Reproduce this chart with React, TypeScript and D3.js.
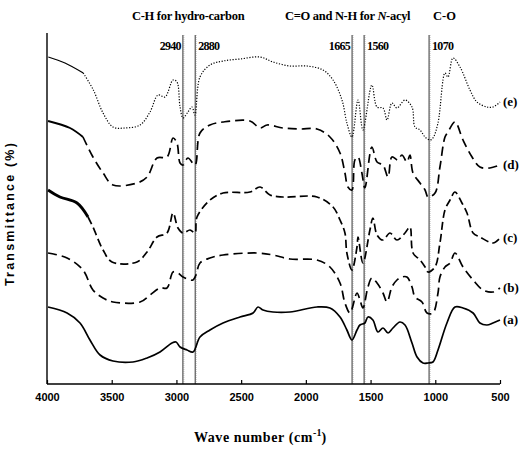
import React, { useEffect, useRef } from 'react';
import * as d3 from 'd3';

type Pt = [number, number]; // [wavenumber cm-1, relative transmittance a.u.]

// spectra, offset as in the original stack
const curveA: Pt[] = [
  [3992, 38.5], [3845, 35.5], [3745, 30.5], [3668, 22], [3590, 14.5], [3490, 11.5],
  [3336, 11], [3227, 13], [3127, 16], [3034, 20.5], [3003, 21], [2972, 18.5],
  [2918, 17], [2872, 16], [2818, 23.5], [2741, 27], [2640, 30.5], [2509, 33.5],
  [2408, 35.5], [2370, 38.5], [2331, 37], [2254, 36], [2123, 36], [1914, 38.5],
  [1814, 38], [1736, 33.5], [1683, 27], [1644, 22], [1605, 27], [1582, 29.5],
  [1544, 30.5], [1520, 33.5], [1482, 32], [1443, 26], [1404, 28], [1365, 25.5],
  [1327, 28], [1273, 31], [1234, 29.5], [1180, 20.5], [1141, 13.5], [1095, 10.5],
  [1056, 10.5], [1018, 11], [979, 17], [910, 30.5], [848, 38.5], [786, 38],
  [708, 35.5], [655, 30.5], [601, 29.5], [554, 30.5], [500, 32],
];

const curveB: Pt[] = [
  [3992, 65.5], [3845, 63], [3722, 57], [3645, 47], [3567, 43], [3490, 41],
  [3281, 41], [3204, 44.5], [3127, 48], [3073, 48], [3026, 56], [2988, 55.5],
  [2949, 53.5], [2895, 52], [2872, 52], [2849, 54.5], [2818, 60.5], [2741, 63],
  [2640, 64.5], [2377, 65.5], [2254, 64.5], [2123, 62.5], [1914, 62], [1814, 58.5],
  [1736, 50.5], [1698, 40.5], [1659, 35.5], [1605, 45.5], [1582, 42], [1559, 38],
  [1520, 48.5], [1490, 53], [1450, 50.5], [1404, 45.5], [1373, 41], [1335, 48.5],
  [1296, 52], [1258, 53.5], [1219, 53.5], [1180, 48.5], [1157, 43.5], [1103, 41],
  [1064, 35.5], [1018, 35.5], [979, 45.5], [964, 53.5], [925, 58.5], [886, 60.5],
  [848, 65.5], [786, 58.5], [708, 52], [631, 47], [554, 46], [500, 48],
];

const curveC: Pt[] = [
  [3992, 97], [3900, 93.5], [3768, 90.5], [3683, 83.5], [3645, 78.5], [3567, 67],
  [3498, 61], [3305, 61], [3227, 66], [3150, 73.5], [3073, 75.5], [3026, 85.5],
  [2988, 78], [2949, 75.5], [2895, 77], [2857, 75.5], [2841, 83.5], [2741, 92],
  [2640, 95.5], [2432, 96], [2354, 98.5], [2277, 94.5], [2177, 93.5], [1914, 93.5],
  [1790, 88.5], [1736, 82], [1698, 75.5], [1683, 65.5], [1644, 57], [1605, 68.5],
  [1597, 73.5], [1559, 60.5], [1505, 77], [1482, 83], [1450, 74.5], [1404, 72],
  [1350, 75.5], [1296, 72], [1234, 75.5], [1196, 78.5], [1172, 65.5], [1118, 62],
  [1079, 58.5], [1056, 56], [1002, 58.5], [964, 70.5], [925, 87], [886, 92],
  [848, 96], [794, 90.5], [755, 85.5], [708, 75.5], [655, 73.5], [554, 70.5], [500, 73],
];

const curveD: Pt[] = [
  [3992, 131.5], [3822, 128], [3722, 123.5], [3645, 113.5], [3567, 105.5], [3490, 99.5],
  [3305, 100.5], [3227, 103.5], [3150, 113], [3073, 113.5], [3026, 123], [2996, 120.5],
  [2972, 110.5], [2949, 109.5], [2911, 113], [2857, 109.5], [2818, 125.5], [2741, 129.5],
  [2640, 131], [2432, 131.5], [2354, 128], [2300, 129.5], [2177, 128], [2045, 127.5],
  [1914, 127.5], [1814, 123.5], [1736, 115.5], [1698, 105.5], [1675, 98.5], [1644, 97],
  [1621, 112], [1597, 113.5], [1567, 105.5], [1544, 98], [1490, 118.5], [1450, 111],
  [1404, 109.5], [1365, 103.5], [1335, 113.5], [1289, 112], [1258, 114.5], [1219, 111],
  [1196, 114.5], [1172, 105.5], [1118, 100.5], [1079, 97], [1056, 93.5], [1002, 95.5],
  [964, 108.5], [925, 123.5], [902, 126], [848, 131], [786, 122], [716, 113.5],
  [655, 108.5], [578, 108], [500, 109.5],
];

const curveE: Pt[] = [
  [3990, 163.5], [3861, 160.5], [3720, 155.5], [3642, 147], [3567, 135.5], [3490, 128.5],
  [3397, 128], [3281, 129.5], [3204, 136], [3142, 144.5], [3088, 143.5], [3026, 152],
  [2996, 151], [2972, 138.5], [2949, 133], [2911, 136], [2880, 138.5], [2857, 134.5],
  [2818, 153.5], [2741, 159.5], [2640, 161.5], [2509, 162.5], [2354, 163.5], [2254, 161],
  [2123, 159], [1991, 159], [1868, 157], [1790, 152], [1721, 142], [1683, 130.5],
  [1644, 123.5], [1597, 142], [1559, 127], [1490, 149.5], [1450, 138.5], [1404, 138],
  [1373, 132], [1335, 140.5], [1296, 138], [1234, 142], [1180, 138.5], [1157, 128.5],
  [1118, 127], [1079, 123.5], [1041, 122], [1018, 123], [979, 130.5], [925, 155.5],
  [902, 153.5], [863, 163], [809, 158.5], [732, 147], [678, 141], [601, 138.5],
  [554, 138.5], [500, 141],
];

const xTicks = [4000, 3500, 3000, 2500, 2000, 1500, 1000, 500];

// marker lines (drawn position) and their printed labels
const markerLines = [2950, 2855, 1643, 1550, 1048];
const markerLabels = ['2940', '2880', '1665', '1560', '1070'];
const markerSide = ['left', 'right', 'left', 'right', 'right'];

const groupTitles = ['C-H for hydro-carbon', 'C=O and N-H for ', 'C-O'];

interface Series {
  label: string;
  points: Pt[];
  dash: string;
  width: number;
  solidTo: number; // heavier noisy segment at the high-wavenumber end
  solidWidth: number;
}

const series: Series[] = [
  { label: '(a)', points: curveA, dash: 'none', width: 1.7, solidTo: 4000, solidWidth: 1.7 },
  { label: '(b)', points: curveB, dash: '9,5', width: 1.7, solidTo: 4000, solidWidth: 1.7 },
  { label: '(c)', points: curveC, dash: '8,4', width: 1.7, solidTo: 3683, solidWidth: 2.8 },
  { label: '(d)', points: curveD, dash: '9,5', width: 1.7, solidTo: 3722, solidWidth: 1.9 },
  { label: '(e)', points: curveE, dash: '1.2,1.6', width: 1.2, solidTo: 3720, solidWidth: 1.3 },
];

const App: React.FC = () => {
  const svgRef = useRef<SVGSVGElement>(null);

  useEffect(() => {
    if (!svgRef.current) return;
    d3.select(svgRef.current).selectAll('*').remove();

    const width = 522;
    const height = 450;
    const margin = { top: 33, right: 22, bottom: 66, left: 47 };
    const plotBottom = height - margin.bottom;

    const svg = d3.select(svgRef.current).attr('width', width).attr('height', height);

    const x = d3.scaleLinear().domain([4000, 500]).range([margin.left, width - margin.right]);
    const y = d3.scaleLinear().domain([0, 170]).range([plotBottom, plotBottom - 340]);

    const serif = '"Liberation Serif", "DejaVu Serif", serif';
    const sans = '"Liberation Sans", Arial, sans-serif';

    // marker lines
    markerLines.forEach((w) => {
      svg.append('line')
        .attr('x1', x(w)).attr('x2', x(w))
        .attr('y1', margin.top + 2).attr('y2', plotBottom)
        .attr('stroke', '#000').attr('stroke-width', 0.8);
      svg.append('line')
        .attr('x1', x(w) + 1).attr('x2', x(w) + 1)
        .attr('y1', margin.top + 2).attr('y2', plotBottom)
        .attr('stroke', '#666').attr('stroke-width', 0.4)
        .attr('stroke-dasharray', '1,1');
    });

    markerLines.forEach((w, i) => {
      const left = markerSide[i] === 'left';
      svg.append('text')
        .attr('x', left ? x(w) - 2 : x(w) + 3)
        .attr('y', 50)
        .attr('text-anchor', left ? 'end' : 'start')
        .attr('font-family', serif)
        .attr('font-weight', 'bold')
        .attr('font-size', 12)
        .attr('letter-spacing', -0.7)
        .text(markerLabels[i]);
    });

    // group titles
    svg.append('text')
      .attr('x', 132).attr('y', 20)
      .attr('font-family', serif).attr('font-weight', 'bold').attr('font-size', 12.5)
      .attr('letter-spacing', -0.3)
      .text(groupTitles[0]);
    const t2 = svg.append('text')
      .attr('x', 285).attr('y', 20)
      .attr('font-family', serif).attr('font-weight', 'bold').attr('font-size', 12.5)
      .attr('letter-spacing', -0.3);
    t2.append('tspan').text(groupTitles[1]);
    t2.append('tspan').attr('font-style', 'italic').text('N');
    t2.append('tspan').text('-acyl');
    svg.append('text')
      .attr('x', 433).attr('y', 20)
      .attr('font-family', serif).attr('font-weight', 'bold').attr('font-size', 12.5)
      .text(groupTitles[2]);

    // spectra
    const line = d3.line<Pt>()
      .x((d) => x(d[0]))
      .y((d) => y(d[1]))
      .curve(d3.curveCatmullRom.alpha(0.5));

    series.forEach((s) => {
      const head = s.points.filter((p) => p[0] >= s.solidTo);
      const tailStart = Math.max(0, head.length - 1);
      const tail = s.points.slice(tailStart);
      if (head.length > 1) {
        svg.append('path')
          .attr('d', line(head) ?? '')
          .attr('fill', 'none')
          .attr('stroke', '#000')
          .attr('stroke-width', s.solidWidth)
          .attr('stroke-linejoin', 'round');
      }
      svg.append('path')
        .attr('d', line(tail) ?? '')
        .attr('fill', 'none')
        .attr('stroke', '#000')
        .attr('stroke-width', s.width)
        .attr('stroke-dasharray', s.dash)
        .attr('stroke-linejoin', 'round');

      const last = s.points[s.points.length - 1];
      svg.append('text')
        .attr('x', x(last[0]) + 3)
        .attr('y', y(last[1]) + 4)
        .attr('font-family', serif)
        .attr('font-weight', 'bold')
        .attr('font-size', 13)
        .text(s.label);
    });

    // axes
    svg.append('line')
      .attr('x1', margin.left).attr('x2', margin.left)
      .attr('y1', margin.top).attr('y2', plotBottom)
      .attr('stroke', '#000').attr('stroke-width', 1.4);

    const xAxis = svg.append('g')
      .attr('transform', `translate(0,${plotBottom})`)
      .call(d3.axisBottom(x).tickValues(xTicks).tickSize(-4).tickPadding(9).tickFormat(d3.format('d')));
    xAxis.select('.domain').attr('stroke-width', 1.4).attr('d', `M${margin.left},0H${width - margin.right}`);
    xAxis.selectAll('.tick line').attr('stroke-width', 1.2);
    xAxis.selectAll('text')
      .attr('font-family', sans)
      .attr('font-weight', 'bold')
      .attr('font-size', 11)
      .attr('fill', '#000');

    // axis titles
    const xt = svg.append('text')
      .attr('x', 260).attr('y', 442)
      .attr('text-anchor', 'middle')
      .attr('font-family', serif)
      .attr('font-weight', 'bold')
      .attr('font-size', 14);
    xt.append('tspan').attr('letter-spacing', 0.6).text('Wave number (cm');
    xt.append('tspan').attr('dy', -6).attr('font-size', 10).text('-1');
    xt.append('tspan').attr('dy', 6).text(')');

    svg.append('text')
      .attr('transform', `translate(14,${(margin.top + plotBottom) / 2 + 5}) rotate(-90)`)
      .attr('text-anchor', 'middle')
      .attr('font-family', sans)
      .attr('font-weight', 'bold')
      .attr('font-size', 12.5)
      .attr('letter-spacing', 2.2)
      .text('Transmittance (%)');
  }, []);

  return (
    <svg ref={svgRef} style={{ position: 'absolute', left: 0, top: 0, background: '#fff' }} />
  );
};

export default App;
